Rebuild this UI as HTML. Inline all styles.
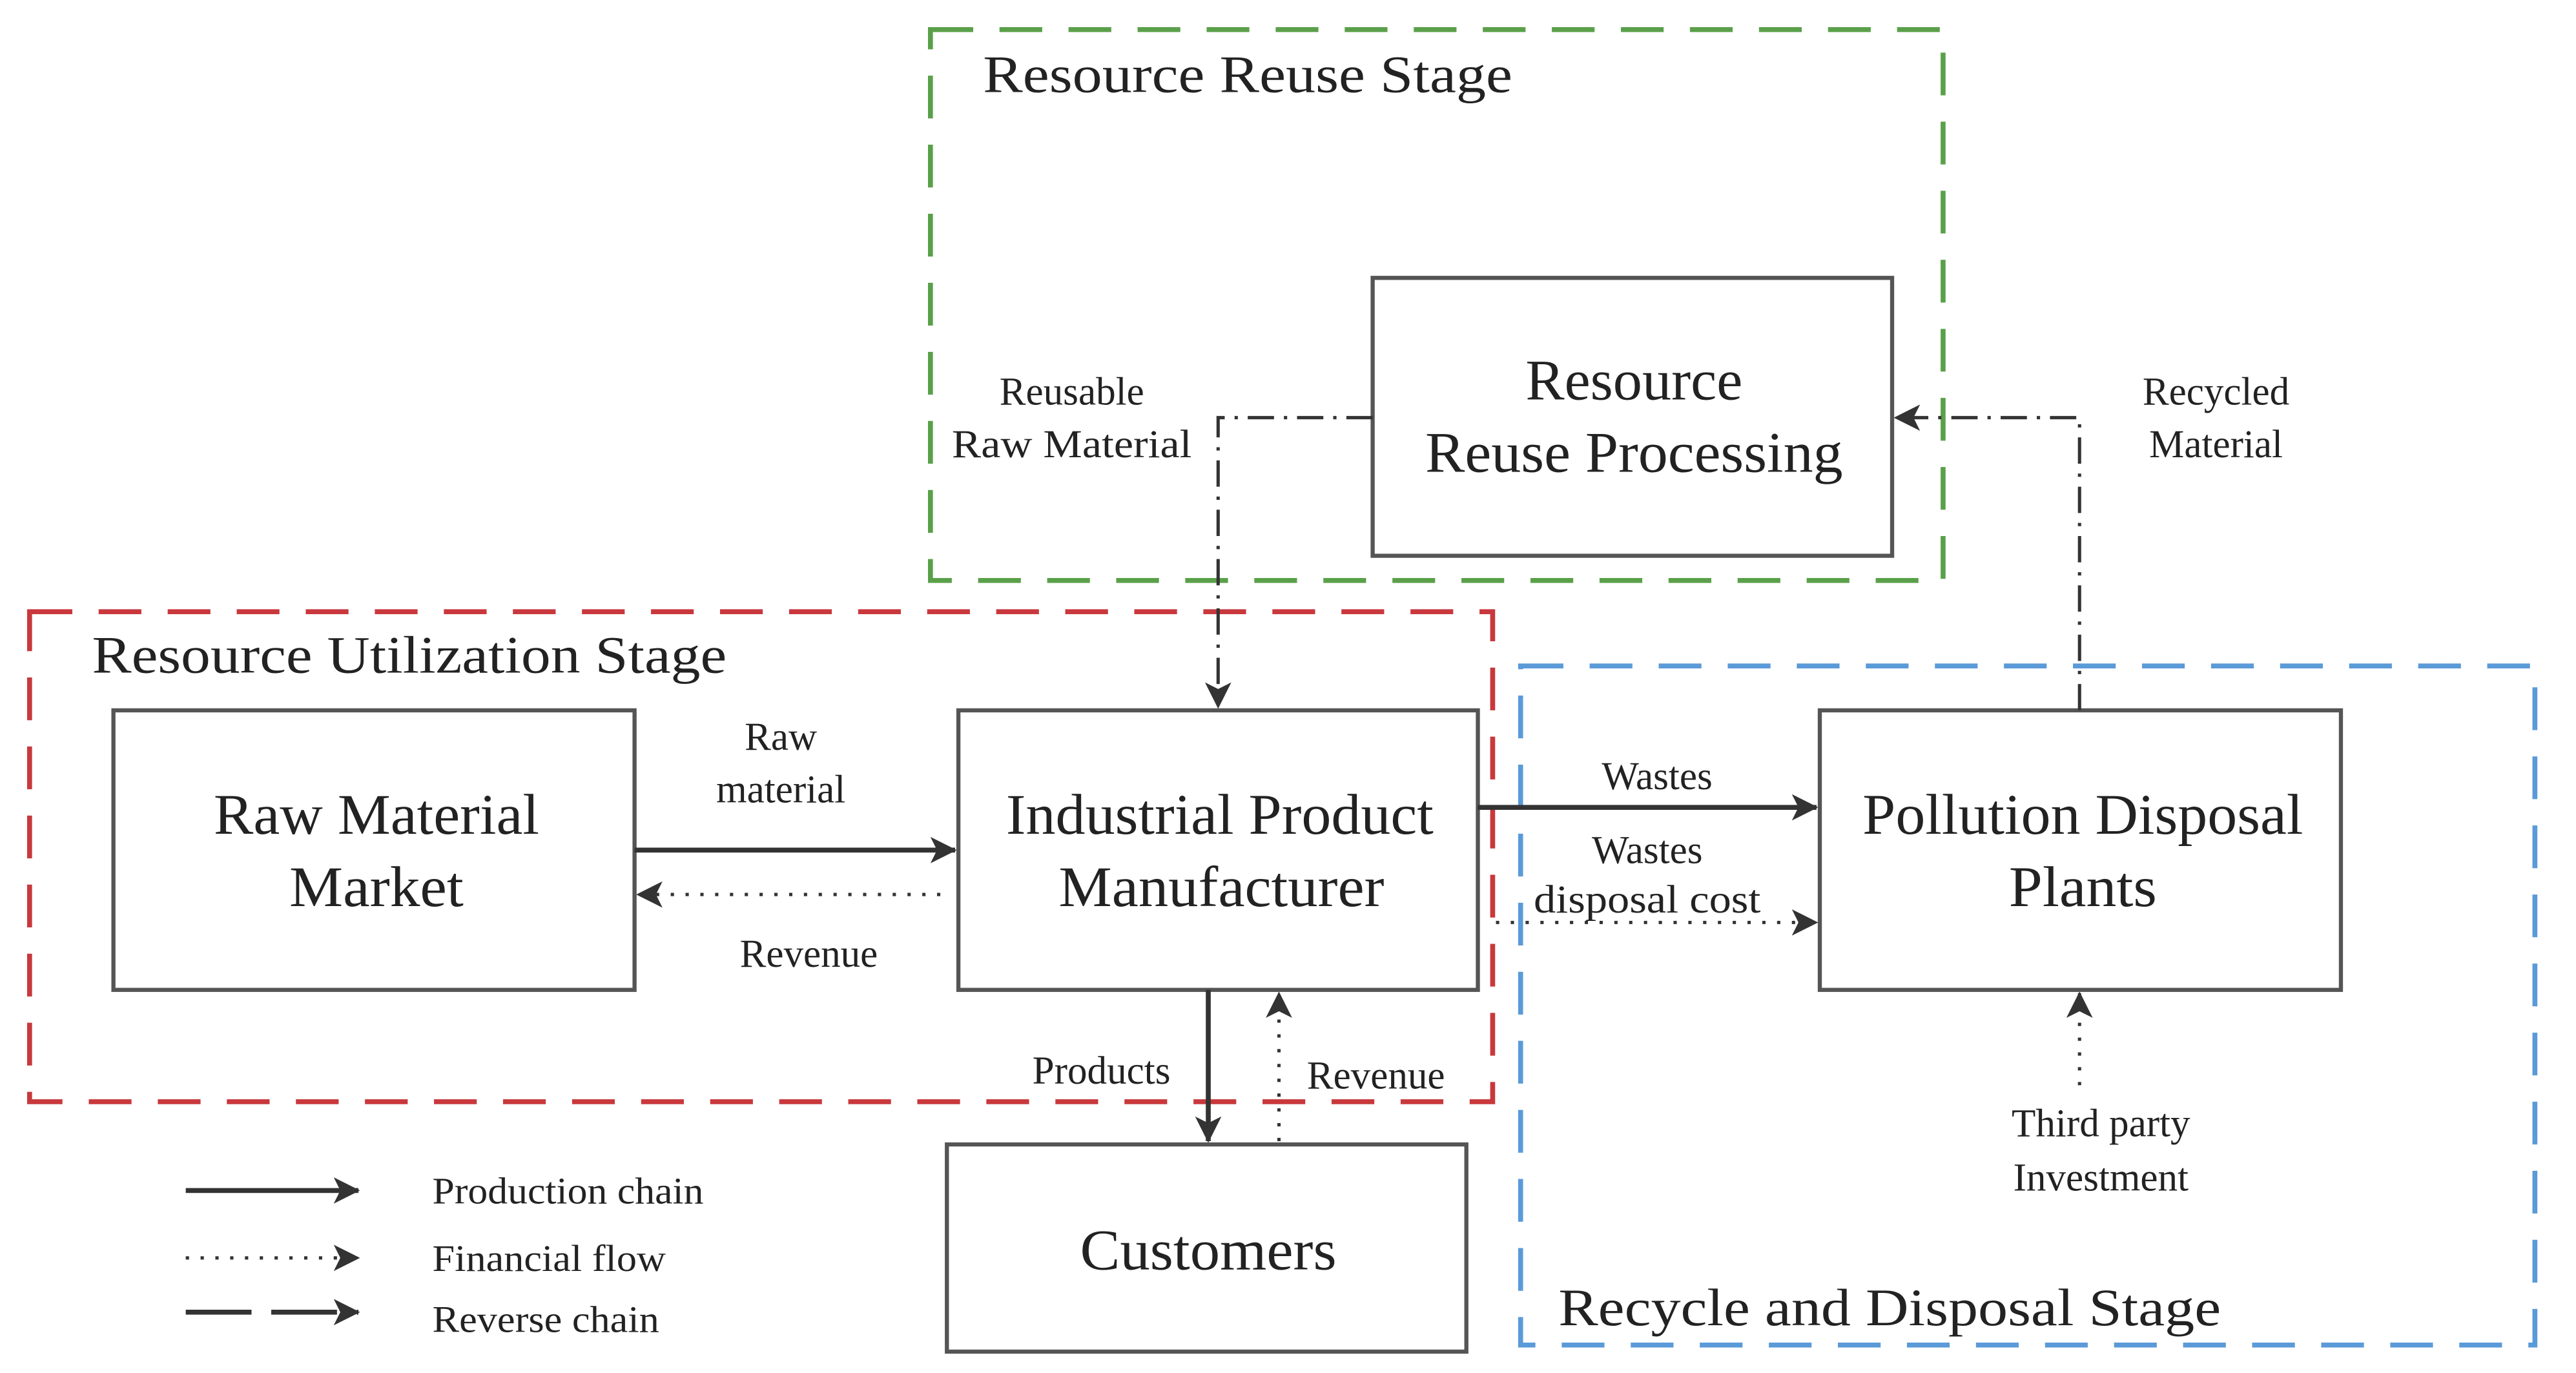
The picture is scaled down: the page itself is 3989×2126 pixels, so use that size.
<!DOCTYPE html>
<html><head><style>html,body{margin:0;padding:0;background:#fff}svg{display:block}</style></head><body>
<svg width="3989" height="2126" viewBox="0 0 1567 835" preserveAspectRatio="none" xmlns="http://www.w3.org/2000/svg" font-family="Liberation Serif, serif" fill="#222">
<defs>
<marker id="b" markerWidth="16" markerHeight="16" refX="15" refY="8" orient="auto" markerUnits="userSpaceOnUse"><path d="M0,0 L16,8 L0,16 L4,8 z" fill="#333"/></marker>
</defs>
<g fill="none" stroke-width="3" stroke-dasharray="26,16">
<rect x="566" y="18" width="616" height="335" stroke="#5aa04a"/>
<rect x="18" y="372" width="890" height="298" stroke="#c8383c"/>
<rect x="925" y="405" width="617" height="413" stroke="#5b9ad8"/>
</g>
<g fill="#fff" stroke="#555" stroke-width="2.5">
<rect x="835" y="169" width="316" height="169"/>
<rect x="69" y="432" width="317" height="170"/>
<rect x="583" y="432" width="316" height="170"/>
<rect x="1107" y="432" width="317" height="170"/>
<rect x="576" y="696" width="316" height="126"/>
</g>
<g stroke="#333" fill="none">
<line x1="386" y1="517" x2="581" y2="517" stroke-width="3" marker-end="url(#b)"/>
<line x1="572" y1="544" x2="388" y2="544" stroke-width="2" stroke-dasharray="2,7" marker-end="url(#b)"/>
<line x1="899" y1="491" x2="1105" y2="491" stroke-width="3" marker-end="url(#b)"/>
<line x1="910" y1="561" x2="1105" y2="561" stroke-width="2" stroke-dasharray="2,7" marker-end="url(#b)"/>
<line x1="735" y1="602" x2="735" y2="694" stroke-width="3" marker-end="url(#b)"/>
<line x1="778" y1="694" x2="778" y2="604" stroke-width="2" stroke-dasharray="2,7" marker-end="url(#b)"/>
<line x1="1265" y1="660" x2="1265" y2="604" stroke-width="2" stroke-dasharray="2,7" marker-end="url(#b)"/>
<polyline points="1265,432 1265,254 1153,254" stroke-width="2" stroke-dasharray="16,6,2,6" marker-end="url(#b)"/>
<polyline points="835,254 741,254 741,430" stroke-width="2" stroke-dasharray="16,6,2,6" marker-end="url(#b)"/>
<line x1="113" y1="724" x2="218" y2="724" stroke-width="3" marker-end="url(#b)"/>
<line x1="113" y1="765" x2="218" y2="765" stroke-width="2" stroke-dasharray="2,7" marker-end="url(#b)"/>
<line x1="113" y1="798" x2="218" y2="798" stroke-width="3" stroke-dasharray="40,12" marker-end="url(#b)"/>
</g>
<g font-size="32" lengthAdjust="spacingAndGlyphs">
<text x="598" y="56" textLength="322" lengthAdjust="spacingAndGlyphs">Resource Reuse Stage</text>
<text x="56" y="409" textLength="386" lengthAdjust="spacingAndGlyphs">Resource Utilization Stage</text>
<text x="948" y="806" textLength="403" lengthAdjust="spacingAndGlyphs">Recycle and Disposal Stage</text>
</g>
<g font-size="35">
<text x="928" y="243" textLength="132" lengthAdjust="spacingAndGlyphs">Resource</text><text x="867" y="287" textLength="254" lengthAdjust="spacingAndGlyphs">Reuse Processing</text>
<text x="130" y="507" textLength="198" lengthAdjust="spacingAndGlyphs">Raw Material</text><text x="176" y="551" textLength="106" lengthAdjust="spacingAndGlyphs">Market</text>
<text x="612" y="507" textLength="260" lengthAdjust="spacingAndGlyphs">Industrial Product</text><text x="644" y="551" textLength="198" lengthAdjust="spacingAndGlyphs">Manufacturer</text>
<text x="1133" y="507" textLength="268" lengthAdjust="spacingAndGlyphs">Pollution Disposal</text><text x="1222" y="551" textLength="90" lengthAdjust="spacingAndGlyphs">Plants</text>
<text x="657" y="772" textLength="156" lengthAdjust="spacingAndGlyphs">Customers</text>
</g>
<g font-size="24" text-anchor="middle">
<text x="652" y="246">Reusable</text><text x="652" y="278" textLength="146" lengthAdjust="spacingAndGlyphs">Raw Material</text>
<text x="1348" y="246">Recycled</text><text x="1348" y="278">Material</text>
<text x="475" y="456">Raw</text><text x="475" y="488">material</text>
<text x="492" y="588">Revenue</text>
<text x="1008" y="480">Wastes</text>
<text x="1002" y="525">Wastes</text><text x="1002" y="555" textLength="138" lengthAdjust="spacingAndGlyphs">disposal cost</text>
<text x="670" y="659">Products</text>
<text x="837" y="662">Revenue</text>
<text x="1278" y="691">Third party</text><text x="1278" y="724">Investment</text>
</g>
<g font-size="23">
<text x="263" y="732" textLength="165" lengthAdjust="spacingAndGlyphs">Production chain</text>
<text x="263" y="773" textLength="142" lengthAdjust="spacingAndGlyphs">Financial flow</text>
<text x="263" y="810" textLength="138" lengthAdjust="spacingAndGlyphs">Reverse chain</text>
</g>
</svg>
</body></html>
